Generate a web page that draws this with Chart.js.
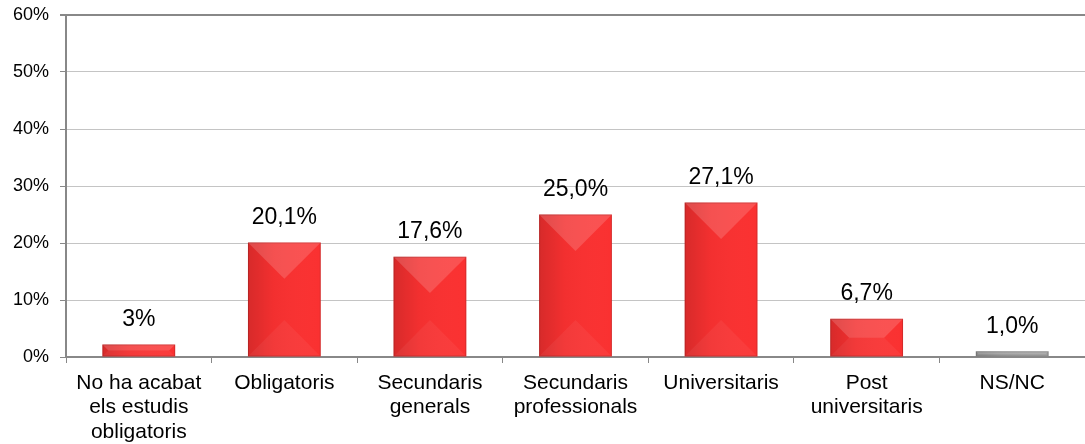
<!DOCTYPE html>
<html>
<head>
<meta charset="utf-8">
<script src="https://cdn.jsdelivr.net/npm/chart.js@4.4.0/dist/chart.umd.min.js"></script>
<style>
  html, body { margin: 0; padding: 0; background: #fff; }
  #wrap { width: 1085px; height: 444px; }
</style>
</head>
<body>
<div id="wrap"><canvas id="chart" width="1085" height="444"></canvas></div>
<script>
var categories = [
  ['No ha acabat', 'els estudis', 'obligatoris'],
  'Obligatoris',
  ['Secundaris', 'generals'],
  ['Secundaris', 'professionals'],
  'Universitaris',
  ['Post', 'universitaris'],
  'NS/NC'
];
var values = [2.2, 20.1, 17.6, 25.0, 27.1, 6.7, 1.0];
var valueLabels = ['3%', '20,1%', '17,6%', '25,0%', '27,1%', '6,7%', '1,0%'];
var barColors = ['#fa3131', '#fa3131', '#fa3131', '#fa3131', '#fa3131', '#fa3131', '#9c9c9c'];
var yTicks = [0, 10, 20, 30, 40, 50, 60];

// bevel look + value labels over each bar
var bevelPlugin = {
  id: 'bevel',
  afterDatasetsDraw: function(chart) {
    var ctx = chart.ctx;
    var meta = chart.getDatasetMeta(0);
    meta.data.forEach(function(bar, i) {
      var p = bar.getProps(['x', 'y', 'base', 'width'], true);
      var x0 = p.x - p.width / 2, x1 = p.x + p.width / 2;
      var y0 = p.y, y1 = p.base;
      var w = x1 - x0, h = y1 - y0;
      var d = Math.min(w / 2, h / 2);
      ctx.save();
      // horizontal shading
      var g = ctx.createLinearGradient(x0, 0, x1, 0);
      g.addColorStop(0, 'rgba(0,0,0,0.14)');
      g.addColorStop(0.35, 'rgba(0,0,0,0.03)');
      g.addColorStop(1, 'rgba(255,255,255,0)');
      ctx.fillStyle = g;
      ctx.fillRect(x0, y0, w, h);
      // top bevel
      ctx.fillStyle = 'rgba(255,255,255,0.16)';
      ctx.beginPath();
      ctx.moveTo(x0, y0); ctx.lineTo(x1, y0); ctx.lineTo(x1 - d, y0 + d); ctx.lineTo(x0 + d, y0 + d);
      ctx.closePath(); ctx.fill();
      // bottom bevel
      ctx.fillStyle = 'rgba(255,255,255,0.05)';
      ctx.beginPath();
      ctx.moveTo(x0, y1); ctx.lineTo(x1, y1); ctx.lineTo(x1 - d, y1 - d); ctx.lineTo(x0 + d, y1 - d);
      ctx.closePath(); ctx.fill();
      // edge line
      ctx.strokeStyle = 'rgba(0,0,0,0.15)';
      ctx.lineWidth = 1;
      ctx.strokeRect(x0 + 0.5, y0 + 0.5, w - 1, h - 1);
      ctx.restore();

      ctx.save();
      ctx.fillStyle = '#000';
      ctx.font = '23px "Liberation Sans", Arial, sans-serif';
      ctx.textAlign = 'center';
      ctx.textBaseline = 'middle';
      ctx.fillText(valueLabels[i], p.x, p.y - 25);
      ctx.restore();
    });
  }
};

new Chart(document.getElementById('chart').getContext('2d'), {
  type: 'bar',
  data: {
    labels: categories,
    datasets: [{
      data: values,
      backgroundColor: barColors,
      borderWidth: 0,
      barPercentage: 0.5,
      categoryPercentage: 1.0
    }]
  },
  options: {
    responsive: false,
    animation: false,
    layout: { padding: { top: 15, right: 0, left: 0, bottom: 0 } },
    plugins: {
      legend: { display: false },
      tooltip: { enabled: false }
    },
    scales: {
      x: {
        grid: {
          offset: true,
          drawOnChartArea: false,
          drawTicks: true,
          tickLength: 6,
          color: '#888'
        },
        border: { color: '#888', width: 2 },
        ticks: {
          color: '#000',
          font: { family: '"Liberation Sans", Arial, sans-serif', size: 21, lineHeight: 1.16 },
          maxRotation: 0,
          autoSkip: false,
          padding: 8
        },
        afterFit: function(scale) { scale.height = 87; }
      },
      y: {
        min: 0,
        max: 60,
        afterBuildTicks: function(scale) {
          scale.ticks = yTicks.map(function(v) { return { value: v }; });
        },
        grid: {
          color: function(c) { return c.tick && c.tick.value === 60 ? '#888' : '#c4c4c4'; },
          lineWidth: function(c) { return c.tick && c.tick.value === 60 ? 2 : 1; },
          tickLength: 6,
          tickColor: '#888'
        },
        border: { color: '#888', width: 2 },
        ticks: {
          color: '#000',
          font: { family: '"Liberation Sans", Arial, sans-serif', size: 18 },
          padding: 11,
          callback: function(v) { return v + '%'; }
        },
        afterFit: function(scale) {
          scale.width = 66;
          scale.paddingTop = 0;
          scale.paddingBottom = 0;
        }
      }
    }
  },
  plugins: [bevelPlugin]
});
</script>
</body>
</html>
